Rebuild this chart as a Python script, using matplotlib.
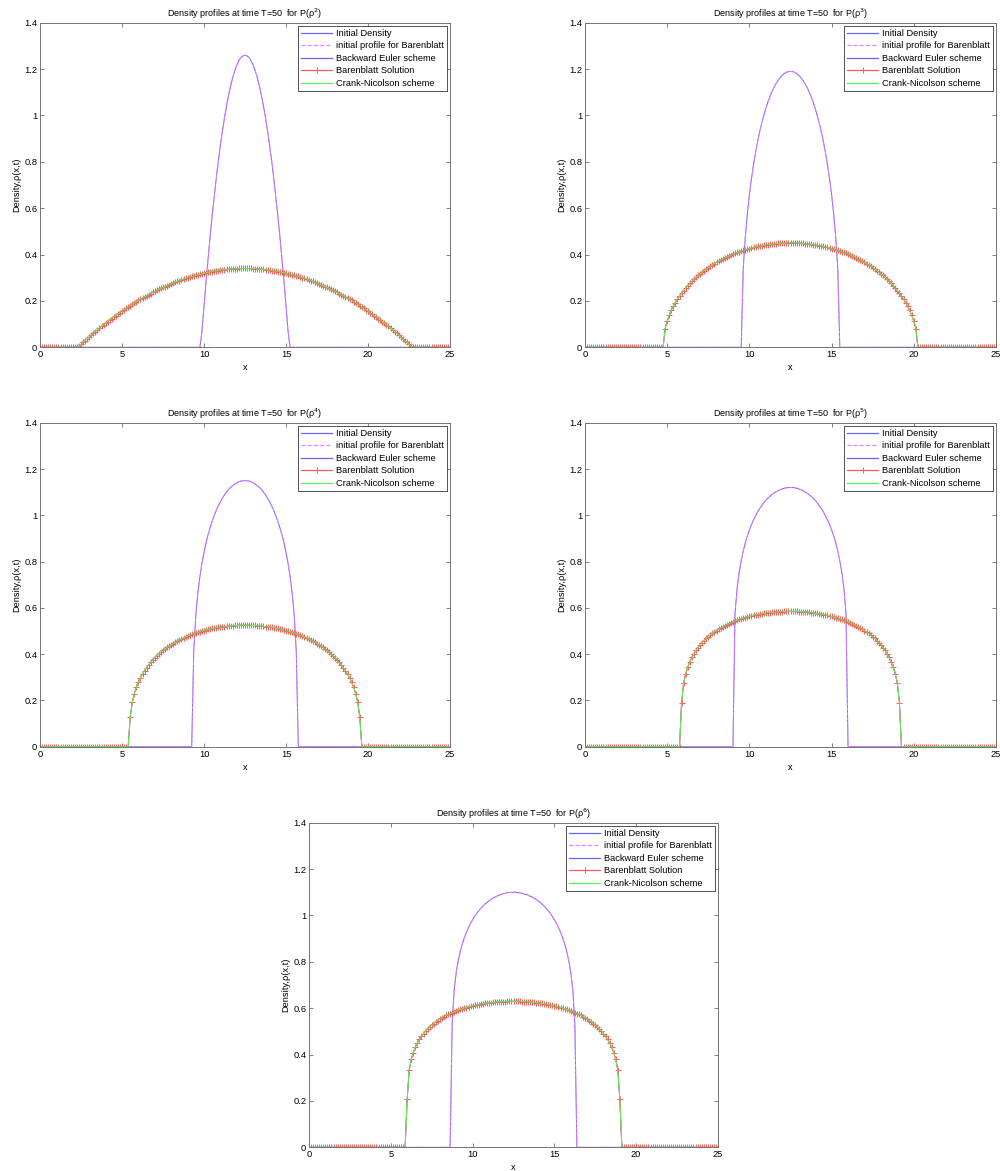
import matplotlib
matplotlib.use("Agg")
import matplotlib.pyplot as plt
import numpy as np

plt.rcParams['font.family'] = ['Liberation Sans', 'DejaVu Sans']

# solver grid, 0..25 with dx = 0.125
x_grid = np.linspace(0, 25, 201)

powers = [2, 3, 4, 5, 6]

# profiles: values from the left edge of the support
# up to the centre x = 12.5 (every profile is symmetric about the centre)
init_p2 = [.069, .180, .285, .385, .480, .569, .652, .731, .804, .871,
           .933, .990, 1.041, 1.087, 1.128, 1.163, 1.192, 1.217, 1.236, 1.249,
           1.257, 1.260]
init_p3 = [.340, .476, .576, .658, .727, .787, .840, .887, .929, .967,
           1.000, 1.031, 1.058, 1.082, 1.103, 1.122, 1.138, 1.152, 1.164, 1.173,
           1.181, 1.186, 1.189, 1.190]
init_p4 = [.413, .569, .664, .735, .792, .840, .881, .916, .947, .975,
           .999, 1.022, 1.041, 1.059, 1.074, 1.088, 1.101, 1.111, 1.121, 1.128,
           1.135, 1.141, 1.145, 1.148, 1.149, 1.150]
init_p5 = [.576, .682, .752, .804, .846, .881, .911, .937, .960, .980,
           .998, 1.015, 1.029, 1.042, 1.054, 1.065, 1.074, 1.082, 1.090, 1.096,
           1.102, 1.107, 1.111, 1.114, 1.117, 1.119, 1.120, 1.120]
init_p6 = [.531, .680, .754, .806, .846, .878, .905, .928, .948, .966,
           .982, .996, 1.009, 1.020, 1.031, 1.040, 1.049, 1.056, 1.063, 1.070,
           1.075, 1.080, 1.084, 1.088, 1.091, 1.094, 1.096, 1.098, 1.099, 1.100,
           1.100]

bar_p2 = [.005, .013, .021, .029, .037, .045, .053, .060, .068, .075,
          .083, .090, .097, .104, .111, .118, .124, .131, .137, .144,
          .150, .156, .162, .168, .174, .180, .186, .191, .197, .202,
          .207, .212, .217, .222, .227, .232, .237, .241, .246, .250,
          .254, .258, .262, .266, .270, .274, .278, .281, .284, .288,
          .291, .294, .297, .300, .303, .306, .308, .311, .313, .315,
          .318, .320, .322, .324, .325, .327, .329, .330, .331, .333,
          .334, .335, .336, .337, .338, .338, .339, .339, .340, .340,
          .340, .340]
bar_p3 = [.081, .113, .138, .159, .177, .193, .208, .221, .234, .245,
          .256, .266, .276, .285, .294, .302, .310, .317, .324, .331,
          .338, .344, .350, .356, .361, .366, .371, .376, .381, .385,
          .390, .394, .398, .402, .405, .409, .412, .415, .418, .421,
          .423, .426, .428, .431, .433, .435, .437, .438, .440, .442,
          .443, .444, .445, .446, .447, .448, .449, .449, .450, .450,
          .450, .450]
bar_p4 = [.127, .192, .229, .257, .279, .298, .314, .329, .342, .354,
          .365, .375, .384, .393, .401, .409, .416, .423, .429, .435,
          .441, .446, .452, .457, .461, .466, .470, .474, .478, .481,
          .485, .488, .491, .494, .497, .500, .502, .504, .507, .509,
          .511, .512, .514, .516, .517, .518, .519, .520, .521, .522,
          .523, .524, .524, .525, .525, .525, .525]
bar_p5 = [.191, .274, .315, .344, .367, .386, .402, .416, .428, .440,
          .450, .459, .468, .476, .483, .490, .496, .502, .508, .513,
          .518, .523, .528, .532, .536, .540, .543, .547, .550, .553,
          .556, .558, .561, .563, .566, .568, .570, .571, .573, .575,
          .576, .577, .579, .580, .581, .582, .583, .583, .584, .584,
          .585, .585, .585, .585]
bar_p6 = [.207, .334, .379, .409, .432, .450, .466, .479, .491, .501,
          .511, .519, .527, .534, .541, .547, .553, .559, .564, .569,
          .573, .577, .581, .585, .588, .592, .595, .598, .601, .603,
          .606, .608, .610, .612, .614, .616, .618, .619, .621, .622,
          .623, .624, .625, .626, .627, .628, .628, .629, .629, .630,
          .630, .630, .630]

init_halves = [init_p2, init_p3, init_p4, init_p5, init_p6]
bar_halves = [bar_p2, bar_p3, bar_p4, bar_p5, bar_p6]

FS = 6.7
BLUE = (0.4, 0.4, 1.0)
MAGENTA = (1.0, 0.45, 1.0)
RED = (1.0, 0.35, 0.35)
GREEN = (0.35, 0.95, 0.35)


def symmetric(half):
    half = np.asarray(half)
    y = np.zeros(len(x_grid))
    c = len(x_grid) // 2
    n = len(half)
    y[c - n + 1:c + 1] = half
    y[c:c + n] = half[::-1]
    return y


def draw_panel(ax, p, init_half, bar_half):
    init = symmetric(init_half)
    bar = symmetric(bar_half)
    ax.plot(x_grid, init, color=BLUE, lw=0.7, label='Initial Density')
    ax.plot(x_grid, init, color=MAGENTA, lw=0.7, ls='--', dashes=(3, 2),
            label='initial profile for Barenblatt')
    ax.plot(x_grid, bar, color=BLUE, lw=0.7, label='Backward Euler scheme')
    ax.plot(x_grid, bar, color=RED, lw=0.7, marker='+', ms=5, mew=0.7,
            label='Barenblatt Solution')
    ax.plot(x_grid, bar, color=GREEN, lw=0.7, label='Crank-Nicolson scheme')

    ax.set_xlim(0, 25)
    ax.set_ylim(0, 1.4)
    ax.set_xticks([0, 5, 10, 15, 20, 25])
    ax.set_yticks([0, 0.2, 0.4, 0.6, 0.8, 1.0, 1.2, 1.4])
    ax.set_yticklabels(['0', '0.2', '0.4', '0.6', '0.8', '1', '1.2', '1.4'])
    ax.tick_params(direction='in', length=3, width=0.5, top=True, right=True,
                   labelsize=FS, pad=2, color='0.3')
    for s in ax.spines.values():
        s.set_linewidth(0.7)
        s.set_color('0.45')
    ax.set_title('Density profiles at time T=50  for P(ρ$^{%d}$)' % p,
                 fontsize=6.5, pad=4)
    ax.set_xlabel('x', fontsize=FS, labelpad=3)
    ax.set_ylabel('Density,ρ(x,t)', fontsize=FS, labelpad=2)
    leg = ax.legend(loc='upper right', fontsize=FS, fancybox=False,
                    framealpha=1, borderaxespad=0.3, handlelength=3.4,
                    handletextpad=0.4, labelspacing=0.38, borderpad=0.35)
    leg.get_frame().set_edgecolor('0.2')
    leg.get_frame().set_linewidth(0.6)
    for line in leg.get_lines():
        line.set_linewidth(0.9)


fig = plt.figure(figsize=(10, 11.71), dpi=100)
positions = [
    [0.040, 0.7034, 0.410, 0.2772],
    [0.585, 0.7034, 0.411, 0.2772],
    [0.040, 0.3623, 0.410, 0.2767],
    [0.585, 0.3623, 0.411, 0.2767],
    [0.309, 0.0202, 0.409, 0.2772],
]

for pos, p, ih, bh in zip(positions, powers, init_halves, bar_halves):
    ax = fig.add_axes(pos)
    draw_panel(ax, p, ih, bh)

fig.savefig('out.png', dpi=100)
